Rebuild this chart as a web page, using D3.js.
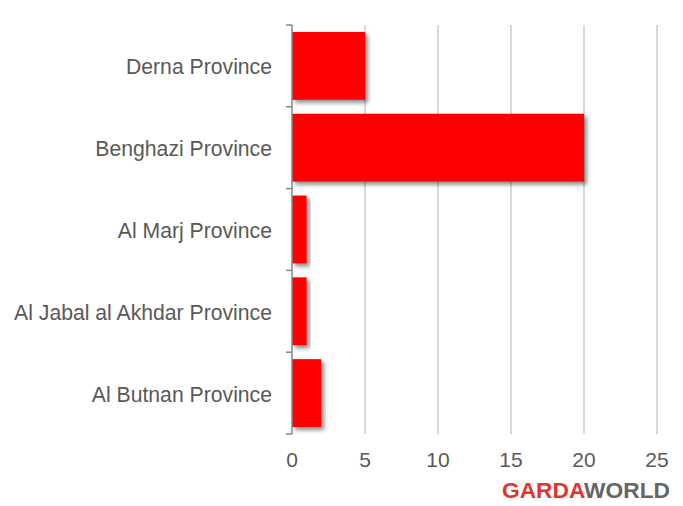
<!DOCTYPE html>
<html><head><meta charset="utf-8">
<script src="https://cdn.jsdelivr.net/npm/d3@7"></script>
<style>body{margin:0;background:#fff}svg{display:block}</style>
</head><body>
<script>
const categories = ["Derna Province","Benghazi Province","Al Marj Province","Al Jabal al Akhdar Province","Al Butnan Province"];
const values = [5, 20, 1, 1, 2];
const xTicks = [0, 5, 10, 15, 20, 25];

const W = 683, H = 506;
const svg = d3.select("body").append("svg").attr("width", W).attr("height", H);
const defs = svg.append("defs");
const f = defs.append("filter").attr("id","sh").attr("x","-20%").attr("y","-20%").attr("width","150%").attr("height","150%");
f.append("feDropShadow").attr("dx",3).attr("dy",3).attr("stdDeviation",2.2).attr("flood-color","#000").attr("flood-opacity",0.45);

const x = d3.scaleLinear().domain([0,25]).range([292,657]);
const y = d3.scaleBand().domain(categories).range([25,434]).paddingInner(0.17).paddingOuter(0.085);

const font = "'Liberation Sans', Arial, sans-serif";
// grid
svg.append("g").selectAll("line").data(xTicks.filter(d=>d>0)).join("line")
  .attr("x1",d=>x(d)).attr("x2",d=>x(d)).attr("y1",25).attr("y2",434)
  .attr("stroke","#d9d9d9").attr("stroke-width",2);

// bars
svg.append("g").selectAll("rect").data(values).join("rect")
  .attr("x", x(0)).attr("y",(d,i)=>y(categories[i]))
  .attr("width",d=>x(d)-x(0)).attr("height",y.bandwidth())
  .attr("fill","#ff0000").attr("filter","url(#sh)");

// y axis
const yAxisScale = d3.scaleLinear().domain([0,categories.length]).range([25,434]);
const gy = svg.append("g");
gy.append("line").attr("x1",292).attr("x2",292).attr("y1",25).attr("y2",434).attr("stroke","#868686").attr("stroke-width",1.5);
gy.selectAll("line.t").data(d3.range(categories.length+1)).join("line").attr("class","t")
  .attr("x1",286).attr("x2",292).attr("y1",d=>yAxisScale(d)).attr("y2",d=>yAxisScale(d))
  .attr("stroke","#868686").attr("stroke-width",1.5);
gy.selectAll("text").data(categories).join("text")
  .attr("x",272).attr("y",d=>y(d)+y.bandwidth()/2+1).attr("dy","0.35em")
  .attr("text-anchor","end").attr("font-family",font).attr("font-size",21.2).attr("fill","#595959")
  .text(d=>d);

// x tick labels
svg.append("g").selectAll("text").data(xTicks).join("text")
  .attr("x",d=>x(d)).attr("y",467).attr("text-anchor","middle")
  .attr("font-family",font).attr("font-size",21).attr("fill","#595959").text(d=>d);

// logo
const logo = svg.append("text").attr("x",502).attr("y",498).attr("font-family",font)
  .attr("font-weight","bold").attr("font-size",21.5).attr("textLength",168).attr("lengthAdjust","spacingAndGlyphs");
logo.append("tspan").attr("fill","#e63329").text("GARDA");
logo.append("tspan").attr("fill","#666666").text("WORLD");
</script>
</body></html>
